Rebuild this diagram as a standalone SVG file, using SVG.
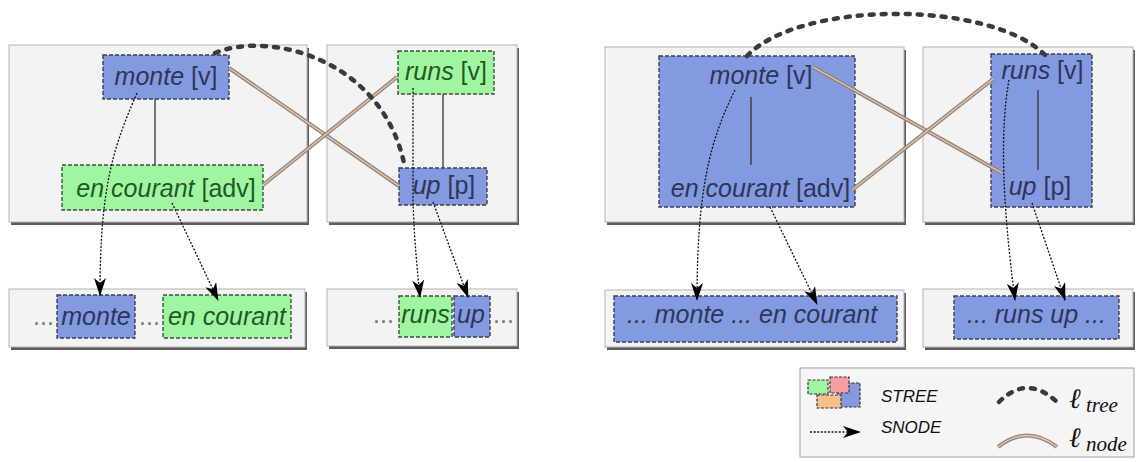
<svg xmlns="http://www.w3.org/2000/svg" width="1137" height="462" viewBox="0 0 1137 462">
<style>
.panel{fill:#f3f3f3;stroke:#b4b4b4;stroke-width:1}
.shadow{fill:#5e5e5e}
.blue{fill:#8399e0;stroke:#3a3f55;stroke-width:1.4;stroke-dasharray:4 2}
.green{fill:#a0f5a0;stroke:#3d5040;stroke-width:1.4;stroke-dasharray:4 2}
.t{font-family:"Liberation Sans",Arial,sans-serif;font-size:25px}
.tb{fill:#2d3658}
.tg{fill:#1f5a26}
.i{font-style:italic}
.dots{fill:#777}
.treeline{fill:none;stroke:#3a3a3a;stroke-width:4.5;stroke-linecap:round;stroke-dasharray:4 8}
.nodeline{fill:none;stroke:#9c8474;stroke-width:4}
.nodeline2{fill:none;stroke:#d9ccbf;stroke-width:1.3}
.snode{fill:none;stroke:#111;stroke-width:1.3;stroke-dasharray:2 1.6;marker-end:url(#arr)}
.vline{stroke:#333;stroke-width:1.3}
.leg{font-family:"Liberation Sans",Arial,sans-serif;font-size:17px;font-style:italic;fill:#111}
.ell{font-family:"DejaVu Serif",serif;font-style:italic;font-size:28px;fill:#111}
.sub{font-family:"Liberation Serif",serif;font-style:italic;font-size:21px;fill:#111}
</style>
<defs>
<marker id="arr" viewBox="0 0 18 12" refX="17" refY="6" markerWidth="18" markerHeight="12" markerUnits="userSpaceOnUse" orient="auto">
<path d="M0,0 L18,6 L0,12 L5,6 Z" fill="#000"/>
</marker>
</defs>

<!-- panels -->
<g id="panels">
<rect class="shadow" x="11" y="48" width="298" height="177"/><rect class="panel" x="9" y="45" width="298" height="177"/>
<rect class="shadow" x="329" y="48" width="190" height="177"/><rect class="panel" x="327" y="45" width="190" height="177"/>
<rect class="shadow" x="11" y="292" width="296" height="58"/><rect class="panel" x="9" y="289" width="296" height="58"/>
<rect class="shadow" x="329" y="292" width="190" height="57"/><rect class="panel" x="327" y="289" width="190" height="57"/>
<rect class="shadow" x="607" y="50" width="299" height="175"/><rect class="panel" x="605" y="47" width="299" height="175"/>
<rect class="shadow" x="925" y="50" width="210" height="175"/><rect class="panel" x="923" y="47" width="210" height="175"/>
<rect class="shadow" x="607" y="293" width="299" height="57"/><rect class="panel" x="605" y="290" width="299" height="57"/>
<rect class="shadow" x="925" y="292" width="210" height="58"/><rect class="panel" x="923" y="289" width="210" height="58"/>
</g>

<!-- left panel nodes -->
<g id="n-monte-l">
<rect class="blue" x="103" y="55" width="126" height="44"/>
<line class="vline" x1="155" y1="99" x2="155" y2="165"/>
<text class="t tb" x="166" y="85" text-anchor="middle"><tspan class="i">monte</tspan> [v]</text>
</g>
<g id="n-encourant-l">
<rect class="green" x="62" y="165" width="201" height="45"/>
<text class="t tg" x="166" y="197" text-anchor="middle"><tspan class="i">en courant</tspan> [adv]</text>
</g>
<g id="n-runs-l">
<rect class="green" x="398" y="51" width="96" height="43"/>
<line class="vline" x1="443" y1="94" x2="443" y2="168"/>
<text class="t tg" x="446" y="80" text-anchor="middle"><tspan class="i">runs</tspan> [v]</text>
</g>
<g id="n-up-l">
<rect class="blue" x="399" y="168" width="88" height="37"/>
<text class="t tb" x="444" y="194" text-anchor="middle"><tspan class="i">up</tspan> [p]</text>
</g>
<g id="s-left1">
<text class="t dots" x="33" y="325">...</text>
<rect class="blue" x="57" y="295" width="78" height="43"/>
<text class="t tb i" x="96" y="325" text-anchor="middle">monte</text>
<text class="t dots" x="139" y="325">...</text>
<rect class="green" x="163" y="295" width="128" height="43"/>
<text class="t tg i" x="227" y="325" text-anchor="middle">en courant</text>
</g>
<g id="s-left2">
<text class="t dots" x="373" y="323">...</text>
<rect class="green" x="399" y="296" width="53" height="41"/>
<text class="t tg i" x="425.5" y="323" text-anchor="middle">runs</text>
<rect class="blue" x="454" y="296" width="36" height="41"/>
<text class="t tb i" x="471" y="323" text-anchor="middle">up</text>
<text class="t dots" x="493" y="323">...</text>
</g>

<!-- right panel nodes -->
<g id="n-monte-encourant-r">
<rect class="blue" x="659" y="56" width="196" height="151"/>
<line class="vline" x1="751" y1="97" x2="751" y2="165"/>
<text class="t tb" x="761" y="84" text-anchor="middle"><tspan class="i">monte</tspan> [v]</text>
<text class="t tb" x="760.5" y="197" text-anchor="middle"><tspan class="i">en courant</tspan> [adv]</text>
</g>
<g id="n-runs-up-r">
<rect class="blue" x="991" y="54" width="101" height="153"/>
<line class="vline" x1="1038" y1="90" x2="1038" y2="170"/>
<text class="t tb" x="1042.5" y="79" text-anchor="middle"><tspan class="i">runs</tspan> [v]</text>
<text class="t tb" x="1040" y="195" text-anchor="middle"><tspan class="i">up</tspan> [p]</text>
</g>
<g id="s-right1">
<rect class="blue" x="614" y="296" width="283" height="46"/>
<text class="t tb i" x="627" y="323">... monte ... en courant</text>
</g>
<g id="s-right2">
<rect class="blue" x="954" y="296" width="165" height="43"/>
<text class="t tb i" x="967" y="323">... runs up ...</text>
</g>

<!-- connectors -->
<g id="connectors">
<path class="nodeline" d="M229,68 L399,186"/><path class="nodeline2" d="M229,68 L399,186"/>
<path class="nodeline" d="M263,185 L397,77"/><path class="nodeline2" d="M263,185 L397,77"/>
<path class="nodeline" d="M813,67 L1002,173"/><path class="nodeline2" d="M813,67 L1002,173"/>
<path class="nodeline" d="M852,190 L993,79"/><path class="nodeline2" d="M852,190 L993,79"/>
<path class="treeline" d="M215,53 C270,30 385,60 405,168"/>
<path class="treeline" d="M747,56 C800,0 990,0 1045,55"/>
<path class="snode" d="M137,93 C112,150 100,190 100,295"/>
<path class="snode" d="M172,203 L218,300"/>
<path class="snode" d="M413,88 L413,200 Q414,240 420,297"/>
<path class="snode" d="M433,202 L468,297"/>
<path class="snode" d="M735,90 C710,140 697,190 697,300"/>
<path class="snode" d="M770,207 L817,304"/>
<path class="snode" d="M1009,80 C1000,130 1002,200 1015,300"/>
<path class="snode" d="M1032,203 L1065,300"/>
</g>

<!-- legend -->
<g id="legend">
<rect x="800" y="368" width="334" height="89" fill="#f5f5f5" stroke="#a0a0a0" stroke-width="1"/>
<rect x="838" y="383" width="22" height="24" fill="#8399e0" stroke="#333" stroke-width="1.2" stroke-dasharray="3 1.5"/>
<rect x="808" y="380" width="20" height="14" fill="#a0f5a0" stroke="#333" stroke-width="1.2" stroke-dasharray="3 1.5"/>
<rect x="830" y="377" width="19" height="16" fill="#f5a0a0" stroke="#333" stroke-width="1.2" stroke-dasharray="3 1.5"/>
<rect x="817" y="395" width="24" height="13" fill="#f7c08a" stroke="#333" stroke-width="1.2" stroke-dasharray="3 1.5"/>
<text class="leg" x="881" y="402">STREE</text>
<path class="snode" d="M810,432 L860,432"/>
<text class="leg" x="881" y="433">SNODE</text>
<path class="treeline" d="M999,402 Q1027,374 1057,402" stroke-width="4"/>
<path class="nodeline" d="M998,447 Q1027,424 1057,447"/><path class="nodeline2" d="M998,447 Q1027,424 1057,447"/>
<text class="ell" x="1069" y="408">ℓ</text>
<text class="sub" x="1086" y="412">tree</text>
<text class="ell" x="1069" y="447">ℓ</text>
<text class="sub" x="1086" y="451">node</text>
</g>
</svg>
